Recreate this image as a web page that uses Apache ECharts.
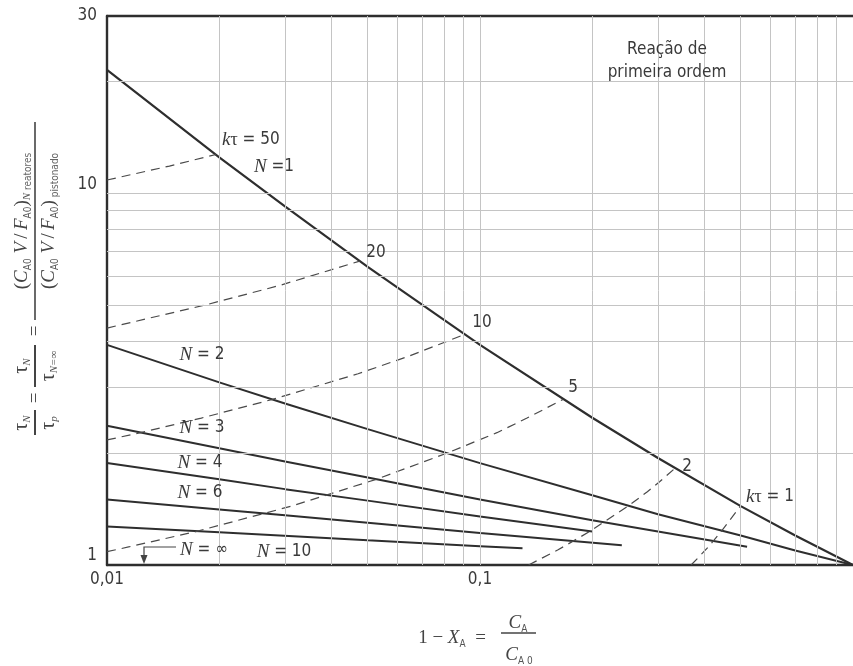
<!DOCTYPE html>
<html>
<head>
<meta charset="utf-8">
<script src="https://cdn.jsdelivr.net/npm/echarts@6/dist/echarts.min.js"></script>
<style>
  html, body { margin: 0; padding: 0; background: #fff; }
  #chart { width: 853px; height: 666px; }
</style>
</head>
<body>
<div id="chart"></div>
<script>
// Space-time ratio of N equal stirred tanks in series vs. plug flow,
// first-order reaction, plotted against the unconverted fraction 1 - X_A.

// Solid curves: one per number of tanks N
const n1X  = [0.01, 0.02, 0.03, 0.05, 0.1, 0.2, 0.3, 0.5, 0.7, 1];
const n1Y  = [21.5, 12.5, 9.22, 6.34, 3.91, 2.49, 1.94, 1.44, 1.20, 1];
const n2X  = [0.01, 0.02, 0.03, 0.05, 0.1, 0.2, 0.3, 0.5, 0.7, 1];
const n2Y  = [3.91, 3.10, 2.72, 2.32, 1.88, 1.54, 1.37, 1.20, 1.094, 1];
const n3X  = [0.01, 0.02, 0.03, 0.05, 0.1, 0.2, 0.3, 0.52];
const n3Y  = [2.37, 2.06, 1.90, 1.72, 1.50, 1.32, 1.23, 1.12];
const n4X  = [0.01, 0.02, 0.03, 0.05, 0.1, 0.2];
const n4Y  = [1.88, 1.70, 1.60, 1.49, 1.35, 1.23];
const n6X  = [0.01, 0.02, 0.03, 0.05, 0.1, 0.24];
const n6Y  = [1.50, 1.41, 1.36, 1.30, 1.22, 1.13];
const n10X = [0.01, 0.02, 0.05, 0.1, 0.13];
const n10Y = [1.27, 1.225, 1.165, 1.124, 1.109];

// Dashed curves: constant k·tau
const kt50X = [0.01, 0.0147, 0.0196];
const kt50Y = [10.86, 11.84, 12.72];
const kt20X = [0.01, 0.0184, 0.029, 0.0476];
const kt20Y = [4.34, 5.01, 5.65, 6.57];
const kt10X = [0.01, 0.0123, 0.0179, 0.0278, 0.0471, 0.0641, 0.0909];
const kt10Y = [2.17, 2.27, 2.485, 2.79, 3.27, 3.64, 4.17];
const kt5X  = [0.01, 0.0115, 0.0173, 0.0312, 0.0527, 0.0816, 0.111, 0.1337, 0.167];
const kt5Y  = [1.086, 1.12, 1.23, 1.44, 1.70, 2.0, 2.27, 2.485, 2.79];
const kt2X  = [0.135, 0.1615, 0.1975, 0.25, 0.281, 0.303, 0.333];
const kt2Y  = [1, 1.097, 1.233, 1.443, 1.574, 1.675, 1.82];
const kt1X  = [0.368, 0.3855, 0.41, 0.444, 0.5];
const kt1Y  = [1, 1.049, 1.12, 1.233, 1.443];

// Grid lines of the log paper
const xGridValues = [0.02, 0.03, 0.04, 0.05, 0.06, 0.07, 0.08, 0.09, 0.1,
                     0.2, 0.3, 0.4, 0.5, 0.6, 0.7, 0.8, 0.9];
const yGridValues = [2, 3, 4, 5, 6, 7, 8, 9, 10, 20];

const pairs = (xs, ys) => xs.map((x, i) => [x, ys[i]]);

const SANS = "'Liberation Sans Narrow', 'DejaVu Sans Condensed', 'Roboto Condensed', Roboto, sans-serif";
const SERIF = "'Liberation Serif', 'DejaVu Serif', serif";
const INK = '#2e2e2e';
const TXT = '#3a3a3a';

const solidStyle = { color: INK, width: 2 };
const dashStyle = { color: '#4a4a4a', width: 1.2, type: [9, 6] };

function curve(name, xs, ys, style) {
  return {
    name, type: 'line', data: pairs(xs, ys), showSymbol: false, symbol: 'none',
    lineStyle: style, silent: true, z: 3, animation: false
  };
}

const richBase = {
  i: { fontFamily: SERIF, fontStyle: 'italic', fontSize: 19, fill: TXT, color: TXT },
  s: { fontFamily: SANS, fontSize: 17, fill: TXT, color: TXT },
  g: { fontFamily: SERIF, fontSize: 18, fill: TXT, color: TXT }
};

function label(text, x, y, align) {
  return {
    type: 'text', x, y, z: 10, silent: true,
    style: { text, align: align || 'center', verticalAlign: 'middle', rich: richBase,
             fill: TXT, font: '17px ' + SANS }
  };
}

const subRich = {
  i:  { fontFamily: SERIF, fontStyle: 'italic', fontSize: 19, fill: '#444', lineHeight: 22, verticalAlign: 'middle' },
  r:  { fontFamily: SERIF, fontSize: 19, fill: '#444', lineHeight: 22, verticalAlign: 'middle' },
  t:  { fontFamily: SERIF, fontSize: 20, fill: '#444', lineHeight: 22, verticalAlign: 'middle' },
  b:  { fontFamily: SANS, fontSize: 10, fill: '#555', lineHeight: 22, verticalAlign: 'bottom', padding: [0, 0, 0, 0] },
  bi: { fontFamily: SERIF, fontStyle: 'italic', fontSize: 11, fill: '#555', lineHeight: 22, verticalAlign: 'bottom' },
  bs: { fontFamily: SANS, fontSize: 10, fill: '#666', lineHeight: 22, verticalAlign: 'bottom' }
};

function rtext(text, x, y) {
  return { type: 'text', x, y, silent: true,
           style: { text, align: 'center', verticalAlign: 'middle', rich: subRich } };
}
function hline(x1, x2, y, w) {
  return { type: 'line', silent: true, shape: { x1, y1: y, x2, y2: y },
           style: { stroke: '#444', lineWidth: w || 1.6 } };
}

// Rotated ordinate title (reads bottom to top)
const yTitle = {
  type: 'group', x: 35, y: 437, rotation: Math.PI / 2, silent: true,
  children: [
    hline(2, 27, 0, 2),
    rtext('{t|τ}{bi|N}', 14, -13),
    rtext('{t|τ}{bi|p}', 14, 14),
    rtext('{r|=}', 39, 0),
    hline(50, 92, 0, 2),
    rtext('{t|τ}{bi|N}', 71, -13),
    rtext('{t|τ}{bi|N=∞}', 71, 14),
    rtext('{r|=}', 106, 0),
    hline(117, 315, 0, 1.6),
    rtext('{r|(}{i|C}{b|A0}{i| V} {r|/} {i|F}{b|A0}{r|)}{bi|N}{bs| reatores}', 216, -13),
    rtext('{r|(}{i|C}{b|A0}{i| V} {r|/} {i|F}{b|A0}{r|)}{bs| pistonado}', 216, 14)
  ]
};

// Abscissa title: 1 - X_A = C_A / C_A0
const xTitle = {
  type: 'group', x: 0, y: 0, silent: true,
  children: [
    rtext('{r|1 − }{i|X}{b|A}{r|  =}', 452, 638),
    rtext('{i|C}{b|A}', 518, 623),
    hline(501, 536, 633, 1.4),
    rtext('{i|C}{b|A 0}', 519, 655)
  ]
};

// Arrow pointing at the N = infinity line (the bottom axis)
const infArrow = [
  { type: 'polyline', silent: true, z: 10,
    shape: { points: [[176, 547], [144, 547], [144, 559]] },
    style: { stroke: '#444', lineWidth: 1.2, fill: null } },
  { type: 'polygon', silent: true, z: 10,
    shape: { points: [[140.5, 555], [147.5, 555], [144, 564]] },
    style: { fill: '#444' } }
];

const chart = echarts.init(document.getElementById('chart'), null, { renderer: 'canvas' });

chart.setOption({
  animation: false,
  backgroundColor: '#fff',
  grid: { left: 107, right: 0, top: 16, bottom: 101, containLabel: false },
  xAxis: [{
    type: 'log', logBase: 10, min: 0.01, max: 1,
    axisLine: { show: true, lineStyle: { color: INK, width: 2.4 } },
    axisTick: { show: false },
    splitLine: { show: false },
    axisLabel: {
      show: true, margin: 6, color: TXT, fontFamily: SANS, fontSize: 17,
      showMaxLabel: false,
      formatter: v => (v > 0.5 ? '' : String(+Number(v).toPrecision(3)).replace('.', ','))
    }
  }, {
    type: 'log', logBase: 10, min: 0.01, max: 1, position: 'top',
    axisLine: { show: true, lineStyle: { color: INK, width: 2.4 } },
    axisTick: { show: false }, axisLabel: { show: false }, splitLine: { show: false }
  }],
  yAxis: {
    type: 'log', logBase: 10, min: 1, max: 30,
    axisLine: { show: true, lineStyle: { color: INK, width: 2.4 } },
    axisTick: { show: false },
    splitLine: { show: false },
    axisLabel: {
      show: true, margin: 10, color: TXT, fontFamily: SANS, fontSize: 17,
      formatter: v => {
        const r = Math.round(v);
        return r === 30 ? '{t|30}' : '{u|' + r + '}';
      },
      rich: {
        t: { fontFamily: SANS, fontSize: 17, color: TXT },
        u: { fontFamily: SANS, fontSize: 17, color: TXT, padding: [0, 0, 18, 0] }
      }
    }
  },
  series: [
    {
      name: 'grade', type: 'line', data: [], silent: true, z: 1, animation: false,
      markLine: {
        silent: true, symbol: ['none', 'none'], animation: false,
        label: { show: false },
        lineStyle: { color: '#c4c4c4', width: 1, type: 'solid' },
        data: [
          ...xGridValues.map(v => ({ xAxis: v })),
          ...yGridValues.map(v => ({ yAxis: v }))
        ]
      }
    },
    curve('N = 1', n1X, n1Y, { color: INK, width: 2.2 }),
    curve('N = 2', n2X, n2Y, solidStyle),
    curve('N = 3', n3X, n3Y, solidStyle),
    curve('N = 4', n4X, n4Y, solidStyle),
    curve('N = 6', n6X, n6Y, solidStyle),
    curve('N = 10', n10X, n10Y, solidStyle),
    curve('kτ = 50', kt50X, kt50Y, dashStyle),
    curve('kτ = 20', kt20X, kt20Y, dashStyle),
    curve('kτ = 10', kt10X, kt10Y, dashStyle),
    curve('kτ = 5', kt5X, kt5Y, dashStyle),
    curve('kτ = 2', kt2X, kt2Y, dashStyle),
    curve('kτ = 1', kt1X, kt1Y, dashStyle)
  ],
  graphic: [
    yTitle,
    xTitle,
    ...infArrow,
    label('{s|Reação de}', 667, 50),
    label('{s|primeira ordem}', 667, 73),
    label('{i|k}{g|τ}{s| = 50}', 222, 140, 'left'),
    label('{i|N}{s| =1}', 274, 167),
    label('{s|20}', 376, 253),
    label('{s|10}', 482, 323),
    label('{s|5}', 573, 388),
    label('{s|2}', 687, 467),
    label('{i|k}{g|τ}{s| = 1}', 746, 497, 'left'),
    label('{i|N}{s| = 2}', 202, 355),
    label('{i|N}{s| = 3}', 202, 428),
    label('{i|N}{s| = 4}', 200, 463),
    label('{i|N}{s| = 6}', 200, 493),
    label('{i|N}{s| = ∞}', 204, 550),
    label('{i|N}{s| = 10}', 284, 552)
  ]
});
</script>
</body>
</html>
